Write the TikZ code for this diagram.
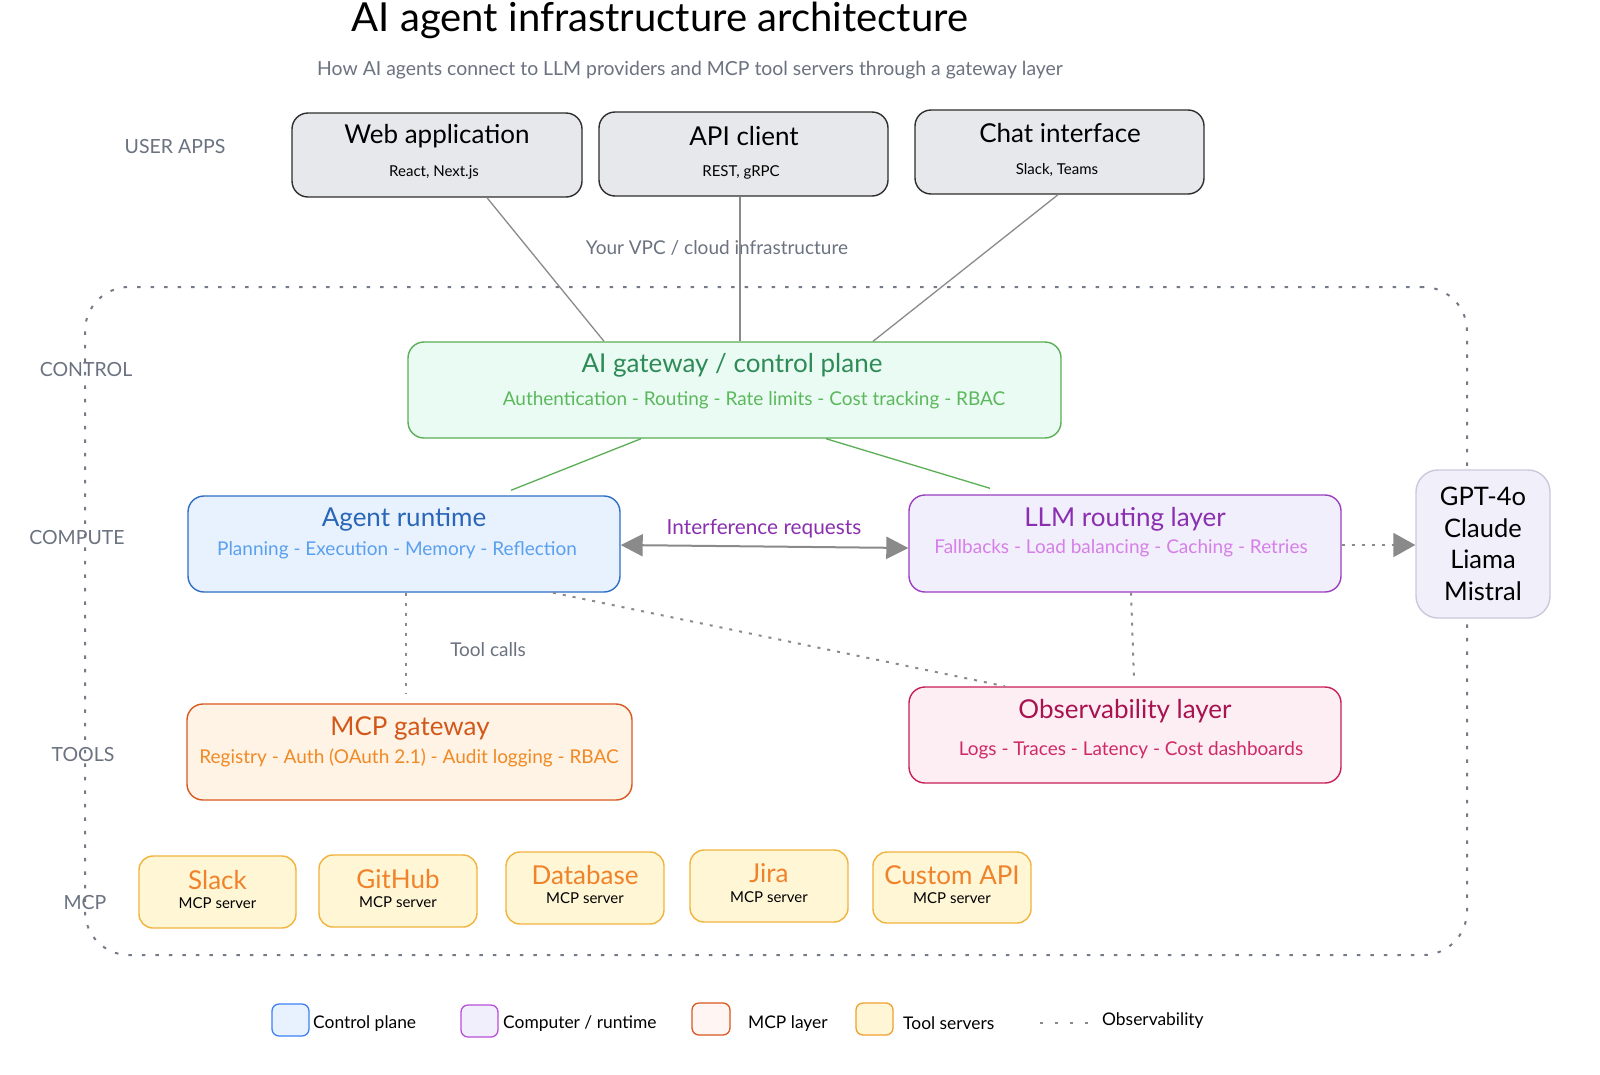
\documentclass[tikz,border=0pt]{standalone}
\usepackage{fontspec}
\setmainfont{Lato}
\usetikzlibrary{arrows.meta,calc}
\definecolor{txtgray}{HTML}{6B7280}
\definecolor{lngray}{HTML}{8A8A8A}
\definecolor{bndgray}{HTML}{747A86}
\definecolor{userfill}{HTML}{E7E8EB}
\definecolor{userdraw}{HTML}{2E2E2E}
\definecolor{gwfill}{HTML}{EAFBF3}
\definecolor{gwdraw}{HTML}{5AAE55}
\definecolor{gwtitle}{HTML}{2E8B57}
\definecolor{gwsub}{HTML}{5CB85C}
\definecolor{agfill}{HTML}{E8F2FE}
\definecolor{agdraw}{HTML}{2F6DC4}
\definecolor{agtitle}{HTML}{2A66B8}
\definecolor{agsub}{HTML}{5AA0EE}
\definecolor{llmfill}{HTML}{F2EFFC}
\definecolor{llmdraw}{HTML}{9B3FC0}
\definecolor{llmtitle}{HTML}{8A2FB0}
\definecolor{llmsub}{HTML}{D57FE8}
\definecolor{gptfill}{HTML}{F1EFFA}
\definecolor{gptdraw}{HTML}{CBC8DE}
\definecolor{mgfill}{HTML}{FFF3E6}
\definecolor{mgdraw}{HTML}{D9581F}
\definecolor{mgtitle}{HTML}{D2581A}
\definecolor{mgsub}{HTML}{F08A24}
\definecolor{obsfill}{HTML}{FDEEF4}
\definecolor{obsdraw}{HTML}{C81E5A}
\definecolor{obstitle}{HTML}{A8124F}
\definecolor{obssub}{HTML}{D02A66}
\definecolor{toolfill}{HTML}{FFF6D6}
\definecolor{tooldraw}{HTML}{F2B33D}
\definecolor{tooltitle}{HTML}{F0822A}
\definecolor{legblue}{HTML}{3B82F6}
\definecolor{legpurple}{HTML}{B84FDB}
\definecolor{legorange}{HTML}{D9581F}
\definecolor{legorfill}{HTML}{FFF5F2}
\definecolor{legyellow}{HTML}{F0A030}
\begin{document}
\begin{tikzpicture}[x=1pt,y=-1pt,
  box/.style={rectangle,rounded corners=16pt,line width=1.4pt,inner sep=0pt},
  userbox/.style={box,fill=userfill,draw=userdraw,minimum height=84pt},
  toolbox/.style={box,fill=toolfill,draw=tooldraw,minimum width=158pt,minimum height=72pt,rounded corners=14pt},
  legbox/.style={rectangle,rounded corners=7pt,line width=1.3pt,minimum width=37pt,minimum height=32pt,inner sep=0pt},
  ttl/.style={font=\fontsize{26}{30}\selectfont,inner sep=0pt},
  sub/.style={font=\fontsize{19}{23}\selectfont,inner sep=0pt},
  small/.style={font=\fontsize{15}{18}\selectfont,inner sep=0pt,text=black},
  lbl/.style={font=\fontsize{19}{23}\selectfont,inner sep=0pt,text=txtgray},
  caplbl/.style={font=\fontsize{19.5}{23}\selectfont,inner sep=0pt,text=txtgray},
  leg/.style={font=\fontsize{17.4}{21}\selectfont,inner sep=0pt,anchor=west,text=black},
  userline/.style={draw=lngray,line width=1.3pt},
  greenline/.style={draw=gwdraw,line width=1.3pt},
  dotline/.style={draw=lngray,line width=2pt,dash pattern=on 3pt off 7pt},
  boundary/.style={draw=bndgray,line width=2pt,dash pattern=on 3.5pt off 10pt,rounded corners=44pt,inner sep=0pt}
]
\useasboundingbox[fill=white] (0,0) rectangle (1600,1074);

% title
\node[font=\fontsize{40}{48}\selectfont,inner sep=0pt] (title) at (660,20) {AI agent infrastructure architecture};
\node[font=\fontsize{19.4}{23}\selectfont,text=txtgray,inner sep=0pt] (subtitle) at (690,70) {How AI agents connect to LLM providers and MCP tool servers through a gateway layer};

% VPC boundary
\node[boundary,minimum width=1382pt,minimum height=668pt] (vpc) at (776,621) {};
\node[lbl] (vpclbl) at (717,248) {Your VPC / cloud infrastructure};

% row labels
\node[caplbl] (lusr) at (175,147) {USER APPS};
\node[caplbl] (lctl) at (86,370) {CONTROL};
\node[caplbl] (lcmp) at (77,538) {COMPUTE};
\node[caplbl] (ltls) at (83,755) {TOOLS};
\node[caplbl] (lmcp) at (85,902) {MCP};

% user apps
\node[userbox,minimum width=290pt] (web) at (437,155) {};
\node[ttl] at (437,136) {Web application};
\node[small] at (434,172) {React, Next.js};
\node[userbox,minimum width=289pt] (api) at (743.5,154) {};
\node[ttl] at (744,136) {API client};
\node[small] at (741,172) {REST, gRPC};
\node[userbox,minimum width=289pt] (chat) at (1059.5,152) {};
\node[ttl] at (1060,133) {Chat interface};
\node[small] at (1057,170) {Slack, Teams};

% gateway
\node[box,fill=gwfill,draw=gwdraw,minimum width=653pt,minimum height=96pt] (gw) at (734.5,390) {};
\node[ttl,text=gwtitle] at (732,365) {AI gateway / control plane};
\node[sub,text=gwsub] at (754,400) {Authentication - Routing - Rate limits - Cost tracking - RBAC};

% agent runtime
\node[box,fill=agfill,draw=agdraw,minimum width=432pt,minimum height=96pt] (agent) at (404,544) {};
\node[ttl,text=agtitle] at (404,519) {Agent runtime};
\node[sub,text=agsub] at (397,550) {Planning - Execution - Memory - Reflection};

% LLM routing
\node[box,fill=llmfill,draw=llmdraw,minimum width=432pt,minimum height=97pt] (llm) at (1125,543.5) {};
\node[ttl,text=llmtitle] at (1125,519) {LLM routing layer};
\node[sub,text=llmsub] at (1121,548) {Fallbacks - Load balancing - Caching - Retries};

% providers
\node[box,fill=gptfill,draw=gptdraw,minimum width=134pt,minimum height=148pt,rounded corners=22pt] (gpt) at (1483,544) {};
\node[align=center,inner sep=0pt,font=\fontsize{25.5}{31.7}\selectfont] at (1483,544) {GPT-4o\\Claude\\Liama\\Mistral};

% MCP gateway
\node[box,fill=mgfill,draw=mgdraw,minimum width=445pt,minimum height=96pt] (mcpgw) at (409.5,752) {};
\node[ttl,text=mgtitle] at (410,728) {MCP gateway};
\node[sub,text=mgsub] at (409,758) {Registry - Auth (OAuth 2.1) - Audit logging - RBAC};

% observability
\node[box,fill=obsfill,draw=obsdraw,minimum width=432pt,minimum height=96pt] (obs) at (1125,735) {};
\node[ttl,text=obstitle] at (1125,711) {Observability layer};
\node[sub,text=obssub] at (1131,750) {Logs - Traces - Latency - Cost dashboards};

% MCP servers
\node[toolbox,minimum width=157pt] (slack) at (217.5,892) {};
\node[ttl,text=tooltitle] at (217.5,880) {Slack};
\node[small] at (217.5,903) {MCP server};
\node[toolbox] (github) at (398,891) {};
\node[ttl,text=tooltitle] at (398,879) {GitHub};
\node[small] at (398,902) {MCP server};
\node[toolbox] (db) at (585,888) {};
\node[ttl,text=tooltitle] at (585,875) {Database};
\node[small] at (585,898) {MCP server};
\node[toolbox] (jira) at (769,886) {};
\node[ttl,text=tooltitle] at (769,873) {Jira};
\node[small] at (769,897) {MCP server};
\node[toolbox,minimum height=71pt] (custom) at (952,887.5) {};
\node[ttl,text=tooltitle] at (952,875) {Custom API};
\node[small] at (952,898) {MCP server};

% connectors: user apps -> gateway
\draw[userline] ([xshift=50pt]web.south) -- ([xshift=-130.5pt]gw.north);
\draw[userline] ([xshift=-3.5pt]api.south) -- ([xshift=5.5pt]gw.north);
\draw[userline] ([xshift=-1.5pt]chat.south) -- ([xshift=138.5pt]gw.north);

% gateway -> compute
\draw[greenline] ([xshift=-93.5pt]gw.south) -- ([xshift=107pt,yshift=5pt]agent.north);
\draw[greenline] ([xshift=91.5pt]gw.south) -- ([xshift=-135pt,yshift=6pt]llm.north);

% interference requests
\draw[draw=lngray,line width=2pt,{Triangle[length=22pt,width=22pt]}-{Triangle[length=22pt,width=22pt]}]
  ([yshift=-1pt]agent.east) -- ([yshift=-4.5pt]llm.west);
\node[font=\fontsize{20.8}{25}\selectfont,text=llmtitle,inner sep=0pt] (ireq) at (764,529) {Interference requests};

% LLM -> providers
\draw[dotline,-{Triangle[length=22pt,width=24pt]}] ([yshift=-1.5pt]llm.east) -- ([yshift=-1pt]gpt.west);

% tool calls
\draw[dotline] ([xshift=2pt]agent.south) -- ([xshift=-3.5pt,yshift=9pt]mcpgw.north);
\node[lbl] (tcl) at (488,650) {Tool calls};

% observability lines
\draw[dotline] ([xshift=149pt]agent.south) -- ([xshift=-120pt]obs.north);
\draw[dotline] ([xshift=6pt]llm.south) -- ([xshift=9pt,yshift=7pt]obs.north);

% legend
\node[legbox,draw=legblue,fill=agfill] (lg1) at (290.5,1020) {};
\node[leg] at (313,1024) {Control plane};
\node[legbox,draw=legpurple,fill=llmfill] (lg2) at (479.5,1021) {};
\node[leg] at (503,1024) {Computer / runtime};
\node[legbox,draw=legorange,fill=legorfill,minimum width=38pt] (lg3) at (711,1019) {};
\node[leg] at (748,1024) {MCP layer};
\node[legbox,draw=legyellow,fill=toolfill] (lg4) at (874.5,1019) {};
\node[leg] at (903,1023) {Tool servers};
\coordinate (lgd1) at (1040,1023);
\coordinate (lgd2) at (1088,1023);
\draw[draw=lngray,line width=2pt,dash pattern=on 3pt off 12pt] (lgd1) -- (lgd2);
\node[leg] at (1102,1021) {Observability};
\end{tikzpicture}
\end{document}
